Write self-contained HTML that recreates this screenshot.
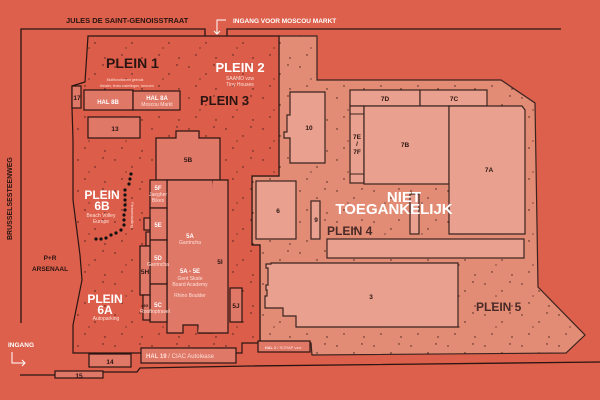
<!DOCTYPE html>
<html><head><meta charset="utf-8"><style>
html,body{margin:0;padding:0;background:#dc604c;}
svg{display:block}
text{font-family:"Liberation Sans",sans-serif;}
</style></head><body>
<svg width="600" height="400" viewBox="0 0 600 400" xmlns="http://www.w3.org/2000/svg">
<defs>
<pattern id="d1" width="37" height="31" patternUnits="userSpaceOnUse">
<circle cx="4" cy="5" r="0.7" fill="#3a1c18"/><circle cx="21" cy="12" r="0.7" fill="#3a1c18"/><circle cx="11" cy="24" r="0.7" fill="#3a1c18"/><circle cx="31" cy="27" r="0.7" fill="#3a1c18"/><circle cx="29" cy="3" r="0.7" fill="#3a1c18"/><circle cx="15" cy="17" r="0.6" fill="#3a1c18"/>
</pattern>
</defs>
<rect width="600" height="400" fill="#dc604c"/>
<path d="M279,36 L317,36 L317,80 L501,80 L535,103 L538,287 L585,335 L566,353 L312,355 L311,343 L260,343 L260,245 L252,245 L252,176 L279,176 Z" fill="#e38c75" stroke="#3a2420" stroke-width="1.2"/>
<path d="M279,36 L317,36 L317,80 L501,80 L535,103 L538,287 L585,335 L566,353 L312,355 L311,343 L260,343 L260,245 L252,245 L252,176 L279,176 Z" fill="url(#d1)"/>
<path d="M88,36 L279,36 L279,176 L252,176 L252,245 L260,245 L260,343 L242,343 L242,353 L73,353 L73,325 L82,280 L80,255 L73,200 L73,140 L72,108 L72,86 L85,82 Z" fill="#dc5e4a" stroke="#2a1512" stroke-width="1.2"/>
<path d="M88,36 L279,36 L279,176 L252,176 L252,245 L260,245 L260,343 L242,343 L242,353 L73,353 L73,325 L82,280 L80,255 L73,200 L73,140 L72,108 L72,86 L85,82 Z" fill="url(#d1)"/>
<path d="M205,36 L205,29 L21,29 L21,323" fill="none" stroke="#2a1512" stroke-width="1.3"/>
<path d="M227,36 L227,29 L561,29" fill="none" stroke="#2a1512" stroke-width="1.3"/>
<path d="M20,375 L55,375 M103,372 L137,372 L140,368 L250,366 L600,362" fill="none" stroke="#2a1512" stroke-width="1.3"/>
<g stroke="#2a1512" stroke-width="1.2" fill="#e07868">
<rect x="72" y="86" width="9" height="22"/>
<rect x="84" y="90" width="49" height="20"/>
<rect x="133" y="91" width="47" height="19"/>
<rect x="88" y="117" width="52" height="21"/>
<path d="M156,138 L176,138 L176,131 L199,131 L199,138 L220,138 L220,180 L156,180 Z"/>
<path d="M167,180 L213,180 L213,333 L198,333 L198,325 L183,325 L183,333 L167,333 Z"/>
<path d="M198,333 L228,333 L228,180 L213,180"/>
<rect x="150" y="180" width="17" height="28"/>
<rect x="150" y="208" width="17" height="32"/>
<rect x="150" y="240" width="17" height="44"/>
<rect x="150" y="284" width="17" height="38"/>
<rect x="144" y="218" width="6" height="12"/>
<rect x="146" y="232" width="4" height="14"/>
<rect x="140" y="246" width="10" height="49"/>
<rect x="143" y="295" width="7" height="25"/>
<rect x="230" y="288" width="12" height="34"/>
<rect x="141" y="348" width="95" height="15"/>
<rect x="89" y="354" width="42" height="13"/>
<rect x="55" y="371" width="48" height="7"/>
<rect x="258" y="341" width="52" height="11"/>
</g>
<g stroke="#3a2420" stroke-width="1.2" fill="#e9a08e">
<path d="M290,92 L325,92 L325,163 L290,163 L290,138 L284,138 L284,132 L287,132 L287,115 L290,115 Z"/>
<rect x="350" y="90" width="70" height="16"/>
<rect x="420" y="90" width="67" height="16"/>
<rect x="350" y="106" width="14" height="77"/>
<rect x="364" y="106" width="85" height="78"/>
<path d="M449,106 L522,106 L525,110 L525,234 L449,234 Z"/>
<rect x="256" y="181" width="40" height="58"/>
<rect x="311" y="201" width="9" height="38"/>
<rect x="410" y="194" width="9" height="40"/>
<rect x="327" y="239" width="197" height="19"/>
<path d="M271,263 L458,263 L458,327 L296,327 L296,316 L283,316 L283,308 L265,308 L265,296 L267,296 L267,290 L266,290 L266,285 L268,285 L268,268 L266,268 L266,264 L271,264 Z"/>
</g>
<line x1="350" y1="114" x2="364" y2="114" stroke="#3a2420" stroke-width="1"/>
<line x1="350" y1="174" x2="364" y2="174" stroke="#3a2420" stroke-width="1"/>
<g fill="#111">
<circle cx="131" cy="174" r="1.6"/><circle cx="130" cy="179" r="1.6"/><circle cx="129" cy="184" r="1.6"/><circle cx="125" cy="190" r="1.6"/><circle cx="125" cy="195" r="1.6"/><circle cx="125" cy="200" r="1.6"/><circle cx="125" cy="205" r="1.6"/><circle cx="125" cy="210" r="1.6"/><circle cx="124" cy="215" r="1.6"/><circle cx="124" cy="220" r="1.6"/><circle cx="124" cy="225" r="1.6"/><circle cx="121" cy="230" r="1.6"/><circle cx="116" cy="233" r="1.6"/><circle cx="111" cy="235" r="1.6"/><circle cx="106" cy="238" r="1.6"/><circle cx="101" cy="239" r="1.6"/><circle cx="96" cy="239" r="1.6"/>
</g>
<g fill="#2a1512" font-weight="bold">
<text x="66" y="23" font-size="7.5">JULES DE SAINT-GENOISSTRAAT</text>
<text x="106" y="68" font-size="14">PLEIN 1</text>
<text x="200" y="105" font-size="13">PLEIN 3</text>
<text x="327" y="235" font-size="12" fill="#4a2a26">PLEIN 4</text>
<text x="476" y="311" font-size="12" fill="#4a2a26">PLEIN 5</text>
<text x="12" y="240" font-size="7" transform="rotate(-90 12 240)">BRUSSELSESTEENWEG</text>
<text x="50" y="260" font-size="6.5" text-anchor="middle">P+R</text>
<text x="50" y="271" font-size="6.5" text-anchor="middle">ARSENAAL</text>
</g>
<g fill="#2a1512" font-size="6.5" font-weight="bold" text-anchor="middle">
<text x="77" y="100">17</text><text x="115" y="131">13</text><text x="188" y="162">5B</text>
<text x="220" y="264">5I</text><text x="236" y="308">5J</text><text x="145" y="274">5H</text>
<text x="146" y="307" font-size="3.5">5G</text>
<text x="110" y="364">14</text><text x="79" y="378">15</text>
<text x="309" y="130">10</text><text x="385" y="101">7D</text><text x="454" y="101">7C</text>
<text x="357" y="139">7E</text><text x="357" y="146">/</text><text x="357" y="154">7F</text>
<text x="405" y="147">7B</text><text x="489" y="172">7A</text><text x="278" y="213">6</text>
<text x="316" y="222">9</text><text x="371" y="299">3</text>
</g>
<g fill="#fff" text-anchor="middle" font-weight="bold">
<text x="240" y="72" font-size="13">PLEIN 2</text>
<text x="404" y="202" font-size="15">NIET</text>
<text x="394" y="214" font-size="15">TOEGANKELIJK</text>
<text x="102" y="199" font-size="12">PLEIN</text><text x="102" y="210" font-size="12">6B</text>
<text x="105" y="303" font-size="12">PLEIN</text><text x="105" y="314" font-size="12">6A</text>
<text x="108" y="104" font-size="6">HAL 8B</text>
<text x="157" y="100" font-size="6">HAL 8A</text>
<text x="158" y="190" font-size="6">5F</text>
<text x="158" y="227" font-size="6">5E</text>
<text x="158" y="260" font-size="6">5D</text>
<text x="158" y="307" font-size="6">5C</text>
<text x="190" y="238" font-size="6">5A</text>
<text x="190" y="273" font-size="6">5A - 5E</text>
</g>
<g fill="#fde0d8" font-size="5" text-anchor="middle">
<text x="240" y="80">SAAMO vzw</text><text x="240" y="86">Tiny Houses</text>
<text x="157" y="106">Moscou Markt</text>
<text x="125" y="81" font-size="3.5">Multifunctioneel gebruik</text>
<text x="127" y="87" font-size="3.5">theater, tentoonstellingen, beurzen</text>
<text x="101" y="217">Beach Volley</text><text x="101" y="223">Europe</text>
<text x="106" y="320">Autoparking</text>
<text x="158" y="196">Jaegher</text><text x="158" y="202">Bikes</text>
<text x="158" y="266">Garrincha</text>
<text x="190" y="244">Garrincha</text>
<text x="190" y="280">Gent Skate</text><text x="190" y="286">Board Academy</text>
<text x="190" y="297">Rhino Boulder</text>
<text x="155" y="313">Rooftoptravel</text>
<text x="180" y="358" font-size="6"><tspan font-weight="bold">HAL 19</tspan> / CIAC Autolease</text>
<text x="283" y="349" font-size="4"><tspan font-weight="bold">HAL 2</tspan> / SCRAP vzw</text>
<text x="131" y="215" font-size="4" transform="rotate(90 131 215)">Fietsenstalling</text>
</g>
<g fill="#fff" font-weight="bold" font-size="6.5">
<text x="8" y="347">INGANG</text>
<text x="233" y="23">INGANG VOOR MOSCOU MARKT</text>
</g>
<g stroke="#fff" stroke-width="1" fill="none">
<path d="M12,352 L12,363 L25,363 M22,360 L25,363 L22,366"/>
<path d="M226,20 L217,20 L217,34 M214,31 L217,34 L220,31"/>
</g>
</svg>
</body></html>
